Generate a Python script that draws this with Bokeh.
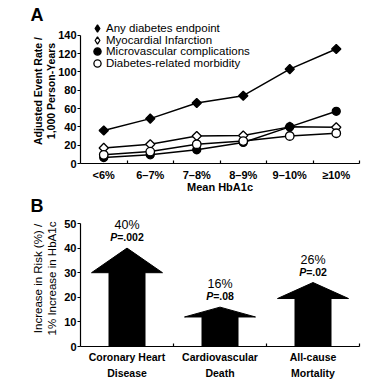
import numpy as np
from bokeh.plotting import figure
from bokeh.layouts import column
from bokeh.models import (Range1d, FixedTicker, Legend, LegendItem, Title,
                          ColumnDataSource)
from bokeh.core.properties import value
from bokeh.embed import file_html
from bokeh.resources import INLINE

FONT = "Liberation Sans"

# ---------------- Panel A data ----------------
hba1c_categories = ["<6%", "6–7%", "7–8%", "8–9%", "9–10%", "≥10%"]
any_endpoint = [36, 49, 66, 74, 103, 125]
myocardial_infarction = [17, 21, 30, 30.5, 40, 39.5]
microvascular = [6.5, 9.5, 15, 23, 40, 57]
diabetes_morbidity = [9.5, 13, 21, 24.5, 30, 33]
a_yticks = [0, 20, 40, 60, 80, 100, 120, 140]

# ---------------- Panel B data ----------------
outcome_categories = ["Coronary Heart\nDisease", "Cardiovascular\nDeath", "All-cause\nMortality"]
risk_increase = [40, 16, 26]
p_values = [".002", ".08", ".02"]
b_yticks = [0, 10, 20, 30, 40, 50]

W = 390
LEFT, RIGHT = 80, 31


def style_axes(p, xcats, yticks):
    n = len(xcats)
    centers = [i + 0.5 for i in range(n)]
    p.xaxis.ticker = FixedTicker(ticks=centers, minor_ticks=list(range(1, n + 1)))
    p.xaxis.major_label_overrides = {c: lab for c, lab in zip(centers, xcats)}
    p.xaxis.major_tick_in = 0
    p.xaxis.major_tick_out = 0
    p.xaxis.minor_tick_in = 3
    p.xaxis.minor_tick_out = 0
    p.xaxis.bounds = (0, n)
    p.yaxis.ticker = FixedTicker(ticks=yticks, minor_ticks=[])
    p.yaxis.major_tick_in = 0
    p.yaxis.major_tick_out = 3
    p.yaxis.minor_tick_in = 0
    p.yaxis.minor_tick_out = 0
    p.yaxis.bounds = (yticks[0], yticks[-1])
    p.yaxis.major_label_standoff = 1
    for ax in (p.xaxis[0], p.yaxis[0]):
        ax.axis_line_color = "black"
        ax.axis_line_width = 1.2
        ax.major_tick_line_color = "black"
        ax.minor_tick_line_color = "black"
        ax.major_tick_line_width = 1.2
        ax.minor_tick_line_width = 1.2
        ax.major_label_text_font = FONT
        ax.major_label_text_font_style = "bold"
        ax.major_label_text_font_size = "11px"
        ax.major_label_text_color = "black"
        ax.axis_label_text_font = FONT
        ax.axis_label_text_color = "black"
    p.xgrid.visible = False
    p.ygrid.visible = False
    p.outline_line_color = None
    p.background_fill_color = "white"
    p.border_fill_color = "white"


def panel_title(letter, standoff):
    return Title(text=letter, align="left", offset=-50, standoff=standoff,
                 text_font=FONT, text_font_style="bold", text_font_size="18px",
                 text_color="black")


# ================= Panel A =================
A_H, A_TOP, A_BOTTOM = 195, 18, 30
a_frame_h = A_H - A_TOP - A_BOTTOM
a_px_per_unit = 130 / 140
pa = figure(width=W, height=A_H, output_backend="svg", toolbar_location=None,
            x_range=Range1d(0, len(hba1c_categories)),
            y_range=Range1d(0, a_frame_h / a_px_per_unit),
            min_border_left=LEFT, min_border_right=RIGHT,
            min_border_top=A_TOP, min_border_bottom=A_BOTTOM)
pa.add_layout(panel_title("A", -13.8), "above")
style_axes(pa, hba1c_categories, a_yticks)
pa.xaxis.major_label_standoff = 5
pa.xaxis.axis_label = "Mean HbA1c"
pa.xaxis.axis_label_text_font_style = "bold"
pa.xaxis.axis_label_text_font_size = "11px"
pa.xaxis.axis_label_standoff = -3
pa.yaxis.axis_label = "Adjusted Event Rate /\n1,000 Person-Years"
pa.yaxis.axis_label_text_font_style = "bold"
pa.yaxis.axis_label_text_font_size = "10.5px"
pa.yaxis.axis_label_text_line_height = 1.1
pa.yaxis.axis_label_standoff = -2

xa = [i + 0.5 for i in range(len(hba1c_categories))]
series = [
    ("Any diabetes endpoint", any_endpoint, "square", 6.5, np.pi / 4, "black", "diamond"),
    ("Myocardial Infarction", myocardial_infarction, "square", 6.5, np.pi / 4, "white", "diamond"),
    ("Microvascular complications", microvascular, "circle", 8, 0, "black", "circle"),
    ("Diabetes-related morbidity", diabetes_morbidity, "circle", 8.5, 0, "white", "circle"),
]
for name, ys, marker, size, ang, fill, lmarker in series:
    src = ColumnDataSource(dict(x=xa, y=ys))
    pa.line("x", "y", source=src, line_color="black", line_width=1.5)
for name, ys, marker, size, ang, fill, lmarker in series:
    src = ColumnDataSource(dict(x=xa, y=ys))
    pa.scatter("x", "y", source=src, marker=marker, size=size, angle=ang,
               fill_color=fill, line_color="black", line_width=1.3)

# legend: one single-row legend per series (key size and row pitch independent)
row_centers = [30, 41.5, 53, 64.5]
G = 18
key_left = 88
frame_left, frame_bottom = LEFT, A_H - A_BOTTOM
for (name, ys, marker, size, ang, fill, lmarker), yc in zip(series, row_centers):
    key = pa.scatter(x=[np.nan], y=[np.nan], marker=lmarker, fill_color=fill,
                     line_color="black", line_width=1.3)
    leg = Legend(items=[LegendItem(label=name, renderers=[key])],
                 location=(key_left - frame_left, frame_bottom - (yc + G / 2)),
                 glyph_width=G, glyph_height=G, label_height=11,
                 label_standoff=0,
                 padding=0, margin=0, spacing=0, border_line_color=None,
                 background_fill_alpha=0, label_text_font=FONT,
                 label_text_font_size="11.5px", label_text_color="black",
                 label_text_baseline="middle")
    pa.add_layout(leg)

# ================= Panel B =================
B_H, B_TOP, B_BOTTOM = 190, 15, 39
b_frame_h = B_H - B_TOP - B_BOTTOM
b_px_per_unit = 123 / 50
pb = figure(width=W, height=B_H, output_backend="svg", toolbar_location=None,
            x_range=Range1d(0, len(outcome_categories)),
            y_range=Range1d(0, b_frame_h / b_px_per_unit),
            min_border_left=LEFT, min_border_right=RIGHT,
            min_border_top=B_TOP, min_border_bottom=B_BOTTOM)
pb.add_layout(panel_title("B", -10.8), "above")
style_axes(pb, outcome_categories, b_yticks)
pb.xaxis.major_label_text_font_size = "10.5px"
pb.xaxis.major_label_text_line_height = 1.35
pb.xaxis.major_label_standoff = 4
pb.yaxis.axis_label = "Increase in Risk (%) /\n1% Increase in HbA1c"
pb.yaxis.axis_label_text_font_style = "normal"
pb.yaxis.axis_label_text_font_size = "11.5px"
pb.yaxis.axis_label_standoff = 3

shaft_half = 18 / 93
head_half = 35.5 / 93
head_frac = 0.75
xs, ys = [], []
for i, v in enumerate(risk_increase):
    c = i + 0.5
    hb = head_frac * v
    xs.append([c - shaft_half, c + shaft_half, c + shaft_half, c + head_half, c,
               c - head_half, c - shaft_half])
    ys.append([0, 0, hb, hb, v, hb, hb])
pb.patches(xs, ys, fill_color="black", line_color="black", line_width=1)

xb = [i + 0.5 for i in range(len(outcome_categories))]
pct_src = ColumnDataSource(dict(x=xb, y=risk_increase,
                                text=[f"{v}%" for v in risk_increase]))
pb.text("x", "y", text="text", source=pct_src, y_offset=-23,
        text_align="center", text_baseline="middle", text_font=value(FONT),
        text_font_size="12.5px", text_color="black")

fs = 10.5
w_p = 0.667 * fs
w_rest = [fs * (0.584 + 0.278 + 0.556 * (len(pv) - 1)) for pv in p_values]
split = [(w_p - wr) / 2 for wr in w_rest]
p_src = ColumnDataSource(dict(x=xb, y=risk_increase, rest=["=" + pv for pv in p_values],
                              pl=["P"] * len(p_values), off=split))
pb.text("x", "y", text="pl", source=p_src, x_offset="off", y_offset=-11,
        text_align="right", text_baseline="middle", text_font=value(FONT),
        text_font_style="bold italic", text_font_size=f"{fs}px", text_color="black")
pb.text("x", "y", text="rest", source=p_src, x_offset="off", y_offset=-11,
        text_align="left", text_baseline="middle", text_font=value(FONT),
        text_font_style="bold", text_font_size=f"{fs}px", text_color="black")

layout = column(pa, pb, spacing=0)
open("out.html", "w").write(file_html(layout, INLINE))
